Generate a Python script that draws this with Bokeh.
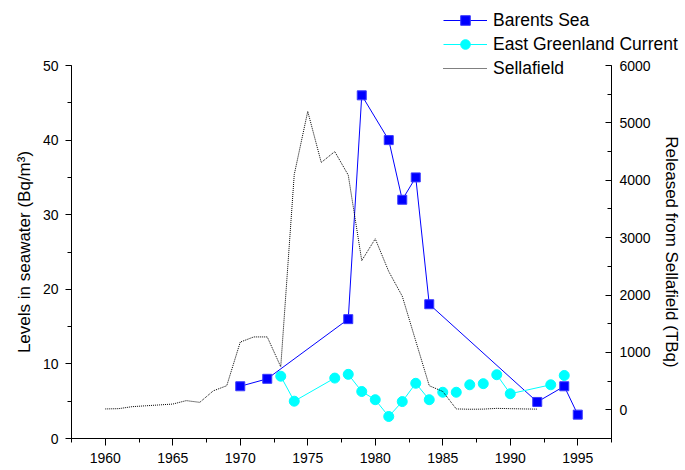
from bokeh.plotting import figure
from bokeh.models import (Range1d, LinearAxis, SingleIntervalTicker, Legend, LegendItem)
from bokeh.embed import file_html
from bokeh.resources import INLINE

# Cs-137 in seawater (Bq/m3) -- Barents Sea
barents_years = [1970, 1972, 1978, 1979, 1981, 1982, 1983, 1984, 1992, 1994, 1995]
barents_values = [7, 8, 16, 46, 40, 32, 35, 18, 4.9, 7, 3.2]

# Cs-137 in seawater (Bq/m3) -- East Greenland Current; segment id groups joined samples
egc_years = [1973, 1974, 1977, 1978, 1979, 1980, 1981, 1982, 1983, 1984,
             1985, 1986, 1987, 1988, 1989, 1990, 1993, 1994]
egc_values = [8.35, 5.0, 8.1, 8.6, 6.3, 5.2, 2.95, 4.95, 7.4, 5.2,
              6.2, 6.2, 7.2, 7.35, 8.55, 6.0, 7.2, 8.45]
egc_segment = [0, 0, 0, 1, 1, 1, 1, 1, 1, 1, 2, 3, 4, 5, 6, 6, 6, 7]

# Annual Cs-137 discharges from Sellafield (TBq)
sellafield_years = list(range(1960, 1993))
sellafield_values = [15, 20, 55, 70, 85, 100, 160, 130, 330, 420,
                     1180, 1270, 1270, 750, 4100, 5200, 4310, 4500, 4090, 2600,
                     2980, 2410, 1980, 1200, 420, 320, 15, 10, 12, 25,
                     20, 15, 12]

series_names = ["Barents Sea", "East Greenland Current", "Sellafield"]

FONT = "Liberation Sans"
BLUE = "#0000FF"
CYAN = "#00FFFF"

p = figure(width=685, height=470, output_backend="svg", toolbar_location=None,
           x_range=Range1d(1957.5, 1997.5), y_range=Range1d(0, 50),
           min_border_left=71, min_border_right=74, min_border_top=65,
           min_border_bottom=32, x_axis_location="below")
p.extra_y_ranges = {"tbq": Range1d(-500, 6000)}
p.outline_line_color = None
p.xgrid.visible = False
p.ygrid.visible = False
p.background_fill_color = "white"
p.border_fill_color = "white"


def style_axis(ax, tick_out, tick_in, minor_out, minor_in, standoff):
    ax.axis_line_color = "black"
    ax.axis_line_width = 1
    ax.major_tick_line_color = "black"
    ax.minor_tick_line_color = "black"
    ax.major_tick_out = tick_out
    ax.major_tick_in = tick_in
    ax.minor_tick_out = minor_out
    ax.minor_tick_in = minor_in
    ax.major_label_text_font = FONT
    ax.major_label_text_font_size = "14px"
    ax.major_label_text_color = "black"
    ax.major_label_standoff = standoff
    ax.axis_label_text_font = FONT
    ax.axis_label_text_font_size = "17px"
    ax.axis_label_text_font_style = "normal"
    ax.axis_label_text_color = "black"


xax = p.xaxis[0]
xax.ticker = SingleIntervalTicker(interval=5, num_minor_ticks=2)
style_axis(xax, 7, 0, 4, 0, 7)

yax = p.yaxis[0]
yax.ticker = SingleIntervalTicker(interval=10, num_minor_ticks=2)
yax.axis_label = "Levels in seawater (Bq/m³)"
yax.axis_label_standoff = 6
style_axis(yax, 6, 0, 4, 0, 7)

rax = LinearAxis(y_range_name="tbq",
                 ticker=SingleIntervalTicker(interval=1000, num_minor_ticks=2),
                 axis_label="Released from Sellafield (TBq)")
style_axis(rax, 0, 6, 0, 4, 8)
rax.axis_label_standoff = 8
p.add_layout(rax, "right")

# Barents Sea series
b_style = dict(line_color=BLUE, line_width=1)
b_mark = dict(marker="square", size=9, fill_color=BLUE, line_color="#3a3aff", line_width=1)
p.line(barents_years, barents_values, **b_style)
p.scatter(barents_years, barents_values, **b_mark)

# East Greenland Current series, split into its sampled runs
e_style = dict(line_color=CYAN, line_width=1)
e_mark = dict(marker="circle", size=10, fill_color=CYAN, line_color=CYAN)
xs, ys = [], []
for seg in sorted(set(egc_segment)):
    xs.append([x for x, s in zip(egc_years, egc_segment) if s == seg])
    ys.append([v for v, s in zip(egc_values, egc_segment) if s == seg])
p.multi_line(xs, ys, **e_style)
p.scatter(egc_years, egc_values, **e_mark)

# Sellafield discharges on the right-hand axis
s_style = dict(line_color="black", line_width=1, line_dash="1 1")
p.line(sellafield_years, sellafield_values, y_range_name="tbq", **s_style)

# Key: a small transparent figure laid over the top-right corner, so the
# key can run past the plot frame without being clipped.  Its renderers
# hold one off-frame point each, only so the key can draw their glyphs.
key = figure(width=245, height=80, output_backend="svg", toolbar_location=None,
             x_axis_type=None, y_axis_type=None, min_border=0,
             x_range=Range1d(0, 1), y_range=Range1d(0, 1),
             styles={"position": "absolute", "left": "443px", "top": "8px"})
key.outline_line_color = None
key.background_fill_alpha = 0
key.border_fill_alpha = 0
for g in key.grid:
    g.visible = False
off = ([-5], [-5])
kb = [key.line(*off, **b_style), key.scatter(*off, **b_mark)]
ke = [key.line(*off, **e_style), key.scatter(*off, **e_mark)]
ks = [key.line(*off, **s_style)]

legend = Legend(items=[LegendItem(label=n, renderers=r)
                       for n, r in zip(series_names, [kb, ke, ks])],
                location="top_left", orientation="vertical",
                glyph_width=44, glyph_height=24, label_height=24, label_standoff=6,
                spacing=0, padding=0, margin=0,
                label_text_font=FONT, label_text_font_size="17.5px",
                label_text_color="black",
                border_line_color=None, background_fill_alpha=0)
key.add_layout(legend, "center")

open("out.html", "w").write(file_html([p, key], INLINE))
